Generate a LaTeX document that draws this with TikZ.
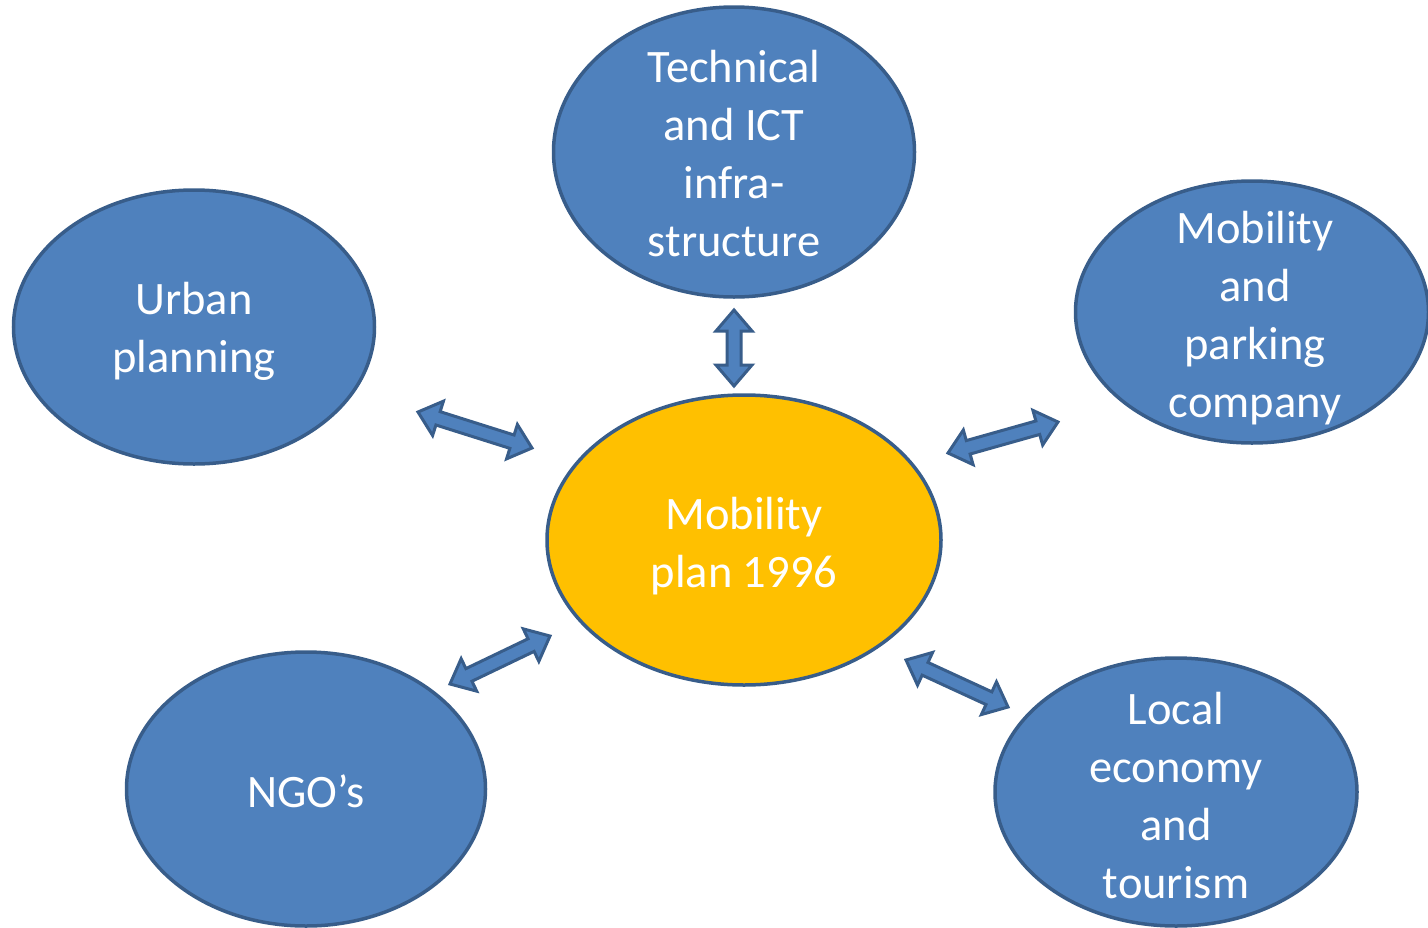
\documentclass[tikz,border=0pt]{standalone}
\usepackage{fontspec}
\setmainfont{Carlito}
\usetikzlibrary{shapes.geometric,calc}
\definecolor{blobfill}{HTML}{4F81BD}
\definecolor{blobline}{HTML}{385D8A}
\definecolor{gold}{HTML}{FFC000}
\tikzset{
  blob/.style={ellipse, draw=blobline, fill=blobfill, line width=3.5pt, inner sep=0pt},
  hub/.style={blob, fill=gold},
  txt/.style={text=white, align=center, font=\fontsize{46.5}{58}\selectfont, inner sep=0pt},
  blockarrow/.style={draw=blobline, fill=blobfill, line width=3pt, line join=miter},
}
\newcommand\dblarrow[2]{%
  \draw[blockarrow] let \p1=(#1), \p2=(#2),
      \p3=($(\p1)!21pt!(\p2)$), \p4=($(\p2)!21pt!(\p1)$) in
    (\p1) -- ($(\p3)!18pt!90:(\p2)$) -- ($(\p3)!7pt!90:(\p2)$)
    -- ($(\p4)!7pt!-90:(\p1)$) -- ($(\p4)!18pt!-90:(\p1)$) -- (\p2)
    -- ($(\p4)!18pt!90:(\p1)$) -- ($(\p4)!7pt!90:(\p1)$)
    -- ($(\p3)!7pt!-90:(\p2)$) -- ($(\p3)!18pt!-90:(\p2)$) -- cycle;}
\begin{document}
\begin{tikzpicture}[x=1pt,y=-1pt]
\useasboundingbox (0,0) rectangle (1428,927);
\clip (0,0) rectangle (1428,927);
% ellipses
\node[blob, minimum width=361pt, minimum height=290pt] (tech) at (734,152) {};
\node[txt] (techT) at ([yshift=-2pt]tech.center) {Technical\\and ICT\\infra-\\structure};
\node[blob, minimum width=361pt, minimum height=274pt] (urban) at (194,327) {};
\node[txt] (urbanT) at ([yshift=-4pt]urban.center) {Urban\\planning};
\node[blob, minimum width=353pt, minimum height=262pt] (park) at (1252,312) {};
\node[txt] (parkT) at ([xshift=3pt,yshift=-6pt]park.center) {Mobility\\and\\parking\\company};
\node[hub, minimum width=394pt, minimum height=290pt] (hub) at (744,540) {};
\node[txt] (hubT) at ([yshift=-6pt]hub.center) {Mobility\\plan 1996};
\node[blob, minimum width=359pt, minimum height=274pt] (ngo) at (306,789) {};
\node[txt] (ngoT) at ([yshift=-2pt]ngo.center) {NGO’s};
\node[blob, minimum width=362pt, minimum height=268pt] (local) at (1176,792) {};
\node[txt] (localT) at ([yshift=-4pt]local.center) {Local\\economy\\and\\tourism};
% arrow end points
\coordinate (a1) at (734,310); \coordinate (b1) at (734,386);
\coordinate (a2) at (418,412); \coordinate (b2) at (532,448);
\coordinate (a3) at (948,453); \coordinate (b3) at (1058,422);
\coordinate (a4) at (450,684); \coordinate (b4) at (550,636);
\coordinate (a5) at (906,660); \coordinate (b5) at (1008,707);
\dblarrow{a1}{b1}
\dblarrow{a2}{b2}
\dblarrow{a3}{b3}
\dblarrow{a4}{b4}
\dblarrow{a5}{b5}
\end{tikzpicture}
\end{document}
